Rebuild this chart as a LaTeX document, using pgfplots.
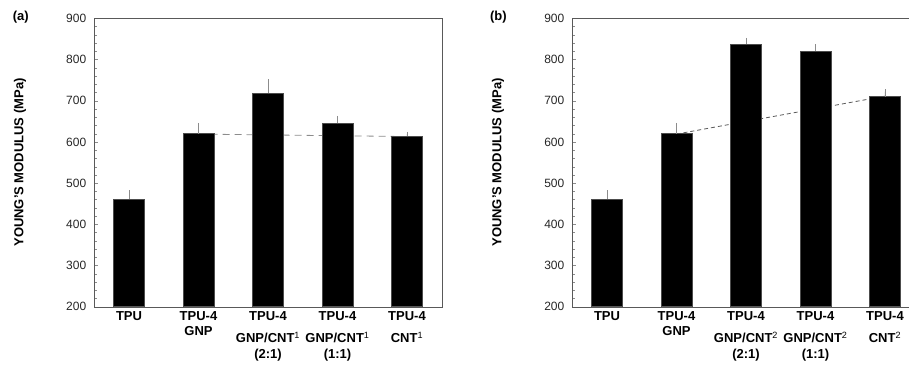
\documentclass[border=0pt]{standalone}
\usepackage{pgfplots}
\pgfplotsset{compat=1.18}
\usepackage{fontspec}
\setmainfont{Liberation Sans}
\begin{document}
\begin{tikzpicture}
\path[use as bounding box] (0pt,0pt) rectangle (909pt,367pt);
\pgfplotsset{
 ym/.style={
  scale only axis, width=347.4pt, height=288.4pt, anchor=south west,
  xmin=-0.5, xmax=4.5, ymin=200, ymax=900,
  ytick={200,300,...,900}, minor y tick num=4,
  ytick pos=left, tick align=inside,
  major tick length=4pt, minor tick length=2.5pt,
  tick style={black!45},
  xtick={0,1,2,3,4}, xtick style={draw=none},
  axis line style={black!65},
  /pgf/number format/assume math mode=true,
  yticklabel style={font=\fontsize{12}{14}\selectfont, text=black!85, xshift=-4.5pt},
  xticklabel style={font=\fontsize{13}{15.6}\selectfont\bfseries, align=center, anchor=north, yshift=-1.2pt},
  ylabel={YOUNG'S MODULUS (MPa)},
  ylabel style={font=\fontsize{13}{15}\selectfont\bfseries, at={(axis description cs:-0.2139,0.5)}, anchor=center},
 },
 bars/.style={ybar, bar width=30.7pt, fill=black, draw=black!70,
  error bars/.cd, y dir=plus, y explicit,
  error bar style={black!45}, error mark options={black!45, mark size=2.2pt}},
}
\begin{axis}[ym, at={(94.3pt,60.3pt)},
  xticklabels={{TPU},{TPU-4\\GNP},{TPU-4\\[6.7pt]GNP/CNT\textsuperscript{\mdseries 1}\\(2:1)},{TPU-4\\[6.7pt]GNP/CNT\textsuperscript{\mdseries 1}\\(1:1)},{TPU-4\\[6.7pt]CNT\textsuperscript{\mdseries 1}}}]
\addplot[black!45, dash pattern=on 7pt off 5pt, line width=0.8pt] coordinates {(1,619) (4,613)};
\addplot[bars] coordinates {(0,461) +- (0,16) (1,620) +- (0,21) (2,718) +- (0,29) (3,645) +- (0,13) (4,614) +- (0,5)};
\end{axis}
\begin{axis}[ym, at={(572.3pt,60.3pt)},
  xticklabels={{TPU},{TPU-4\\GNP},{TPU-4\\[6.7pt]GNP/CNT\textsuperscript{\mdseries 2}\\(2:1)},{TPU-4\\[6.7pt]GNP/CNT\textsuperscript{\mdseries 2}\\(1:1)},{TPU-4\\[6.7pt]CNT\textsuperscript{\mdseries 2}}}]
\addplot[black!65, dash pattern=on 4pt off 3pt, line width=0.8pt] coordinates {(1,619) (4,711)};
\addplot[bars] coordinates {(0,461) +- (0,16) (1,620) +- (0,21) (2,837) +- (0,10) (3,820) +- (0,12) (4,710) +- (0,12)};
\end{axis}
\node[font=\fontsize{13}{15}\selectfont\bfseries] at (20.8pt,350.3pt) {(a)};
\node[font=\fontsize{13}{15}\selectfont\bfseries] at (498.3pt,350.3pt) {(b)};
\end{tikzpicture}
\end{document}
